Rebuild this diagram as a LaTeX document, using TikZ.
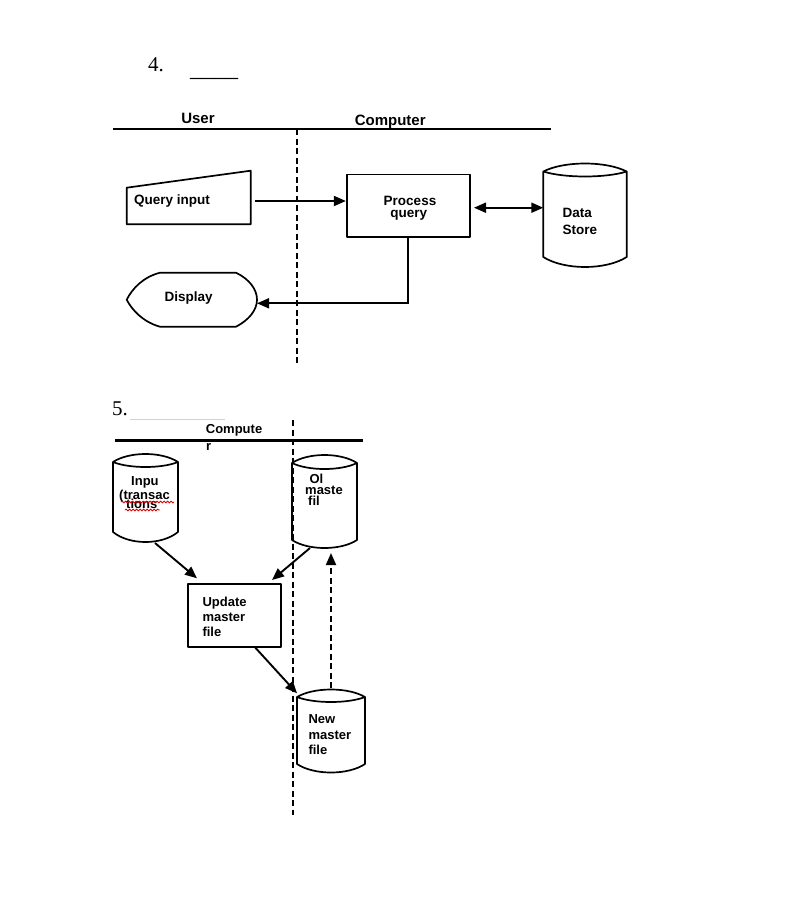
\documentclass[tikz,border=0pt]{standalone}
\usepackage{fontspec}
\newfontfamily\arialfont{Liberation Sans}
\newfontfamily\timesfont{Liberation Serif}
\usetikzlibrary{arrows.meta,decorations.pathmorphing,calc}
\tikzset{
 shp/.style={line width=1.7pt, line join=round},
 arr/.style={line width=1.9pt, -{Triangle[length=12pt,width=10pt]}},
 dbl/.style={line width=1.9pt, {Triangle[length=12pt,width=10pt]}-{Triangle[length=12pt,width=10pt]}},
 lane/.style={line width=2pt, dash pattern=on 6pt off 3.5pt},
 rulerline/.style={line width=2.3pt},
 tA/.style={font=\arialfont\bfseries\fontsize{13.5}{16}\selectfont, inner sep=0},
 tB/.style={font=\arialfont\bfseries\fontsize{13}{15}\selectfont, inner sep=0, anchor=base west},
 hd/.style={font=\arialfont\bfseries\fontsize{15}{18}\selectfont, inner sep=0, anchor=base},
 num/.style={font=\timesfont\fontsize{21}{24}\selectfont, inner sep=0, anchor=base west},
 boxnode/.style={draw, shp, inner sep=0},
 ghost/.style={inner sep=0, outer sep=0},
 wavy/.style={red!85!black, line width=0.8pt, decorate, decoration={snake, amplitude=0.9pt, segment length=3.5pt}},
}
% #1 name, #2 x1, #3 x2, #4 ytop, #5 ybottom, #6 top peak, #7 top dip, #8 bottom dip
\newcommand\drawcyl[8]{%
 \node[ghost, minimum width={#3-#2}, minimum height={#5-#4}] (#1) at ({(#2+#3)/2},{(#4+#5)/2}) {};
 \draw[shp] (#2,#4) .. controls ({#2+(#3-#2)/4},{#4-#6/0.75}) and ({#3-(#3-#2)/4},{#4-#6/0.75}) .. (#3,#4)
   .. controls ({#3-(#3-#2)/4},{#4+#7/0.75}) and ({#2+(#3-#2)/4},{#4+#7/0.75}) .. (#2,#4) -- (#2,#5)
   .. controls ({#2+(#3-#2)/4},{#5+#8/0.75}) and ({#3-(#3-#2)/4},{#5+#8/0.75}) .. (#3,#5) -- (#3,#4);
}
\begin{document}
\begin{tikzpicture}[x=1pt,y=-1pt]
\useasboundingbox (0,0) rectangle (804,902);

% ---------------- 4 ----------------
\node[num] (n4) at (148,71.7) {4.};
\node[num, font=\timesfont\fontsize{24}{26}\selectfont] (blank4) at (190,76.2) {\_\_\_\_};

\node[hd] (user) at (198,123.3) {User};
\node[hd] (comp) at (390.2,125.3) {Computer};
\coordinate (r4a) at (113,129.3);
\coordinate (r4b) at (551,129.3);
\draw[rulerline] (r4a) -- (r4b);
\coordinate (l4a) at (297,129.3);
\coordinate (l4b) at (297,365);
\draw[lane] (l4a) -- (l4b);

% Query input (manual input)
\node[ghost, minimum width=124pt, minimum height=53.6pt] (qi) at (188.7,197.5) {};
\draw[shp] (126.7,187.7) -- (250.7,170.7) -- (250.7,224.3) -- (126.7,224.3) -- cycle;
\node[tA, anchor=base west] (qit) at (134,204) {Query input};

% Process query
\node[boxnode, minimum width=123.3pt, minimum height=62.2pt] (pq) at (408.35,205.6) {};
\node[tA, anchor=base] (pqt1) at (410,205.7) {Process};
\node[tA, anchor=base] (pqt2) at (408.7,217.3) {query};

% Data store
\drawcyl{ds}{543.3}{626.7}{171.5}{257}{8}{5}{10}
\node[tA, anchor=base west] (dst1) at (562.3,217.7) {Data};
\node[tA, anchor=base west] (dst2) at (562.3,234) {Store};

% Display
\node[ghost, minimum width=130.3pt, minimum height=54pt] (disp) at (191.85,299.7) {};
\draw[shp] (160,272.7) -- (236,272.7) .. controls (249,279) and (257,289) .. (257,299.7)
  .. controls (257,310) and (249,320) .. (236,326.7) -- (160,326.7)
  .. controls (143,322) and (132,310) .. (126.7,299.7)
  .. controls (132,289) and (143,277) .. (160,272.7);
\node[tA, anchor=base] (dispt) at (188.7,301.7) {Display};

% connectors 4
\coordinate (qiE) at (255,201);
\draw[arr] (qiE) -- (qiE -| pq.west);
\coordinate (pqE) at (474,207.7);
\draw[dbl] (pqE) -- (pqE -| ds.west);
\coordinate (dispE) at (257,303.3);
\draw[arr] (pq.south) |- (dispE);

% ---------------- 5 ----------------
\node[num] (n5) at (112,415) {5.};
\coordinate (g5a) at (130,419);
\coordinate (g5b) at (225,419);
\draw[gray!35, line width=0.8pt] (g5a) -- (g5b);

\node[tB] (c5a) at (205.7,433.5) {Compute};
\node[tB] (c5b) at (206,450) {r};
\coordinate (r5a) at (115,440.5);
\coordinate (r5b) at (363,440.5);
\draw[rulerline] (r5a) -- (r5b);
\coordinate (l5a) at (292.7,420);
\coordinate (l5b) at (292.7,815);
\draw[lane] (l5a) -- (l5b);

% Input (transactions)
\drawcyl{inp}{113}{178}{462}{532}{8}{5}{10}
\node[tB] (inpt1) at (131,485) {Inpu};
\node[tB] (inpt2) at (119,499.5) {(transac};
\node[tB] (inpt3) at (126,508) {tions};
\coordinate (w1a) at (121,502);
\coordinate (w1b) at (174,502);
\draw[wavy] (w1a) -- (w1b);
\coordinate (w2a) at (125,510);
\coordinate (w2b) at (160,510);
\draw[wavy] (w2a) -- (w2b);

% Old master file
\drawcyl{old}{292}{357}{463}{540}{8}{6}{8}
\node[tB] (oldt1) at (309.3,483.3) {Ol};
\node[tB] (oldt2) at (305,494) {maste};
\node[tB] (oldt3) at (308,505) {fil};

% Update master file
\node[boxnode, minimum width=92.7pt, minimum height=63pt] (upd) at (234.65,615.8) {};
\node[tB] (updt1) at (202.3,606) {Update};
\node[tB] (updt2) at (202.3,621.7) {master};
\node[tB] (updt3) at (202.3,636.7) {file};

% New master file
\drawcyl{new}{297}{365}{697}{764}{7.5}{5}{8.5}
\node[tB] (newt1) at (308.3,723.3) {New};
\node[tB] (newt2) at (308.3,739.5) {master};
\node[tB] (newt3) at (308.3,754.5) {file};

% connectors 5
\coordinate (inpS) at (155,543);
\coordinate (updNW) at (197,578.3);
\draw[arr] (inpS) -- (updNW);
\coordinate (oldS) at (310,548);
\coordinate (updNE) at (272,580);
\draw[arr] (oldS) -- (updNE);
\coordinate (updS) at (255,647.3);
\coordinate (newNW) at (297,693.3);
\draw[arr] (updS) -- (newNW);
\coordinate (newN) at (331,688);
\coordinate (oldB) at (331,553);
\draw[arr, dash pattern=on 6pt off 3.5pt] (newN) -- (oldB);
\end{tikzpicture}
\end{document}
